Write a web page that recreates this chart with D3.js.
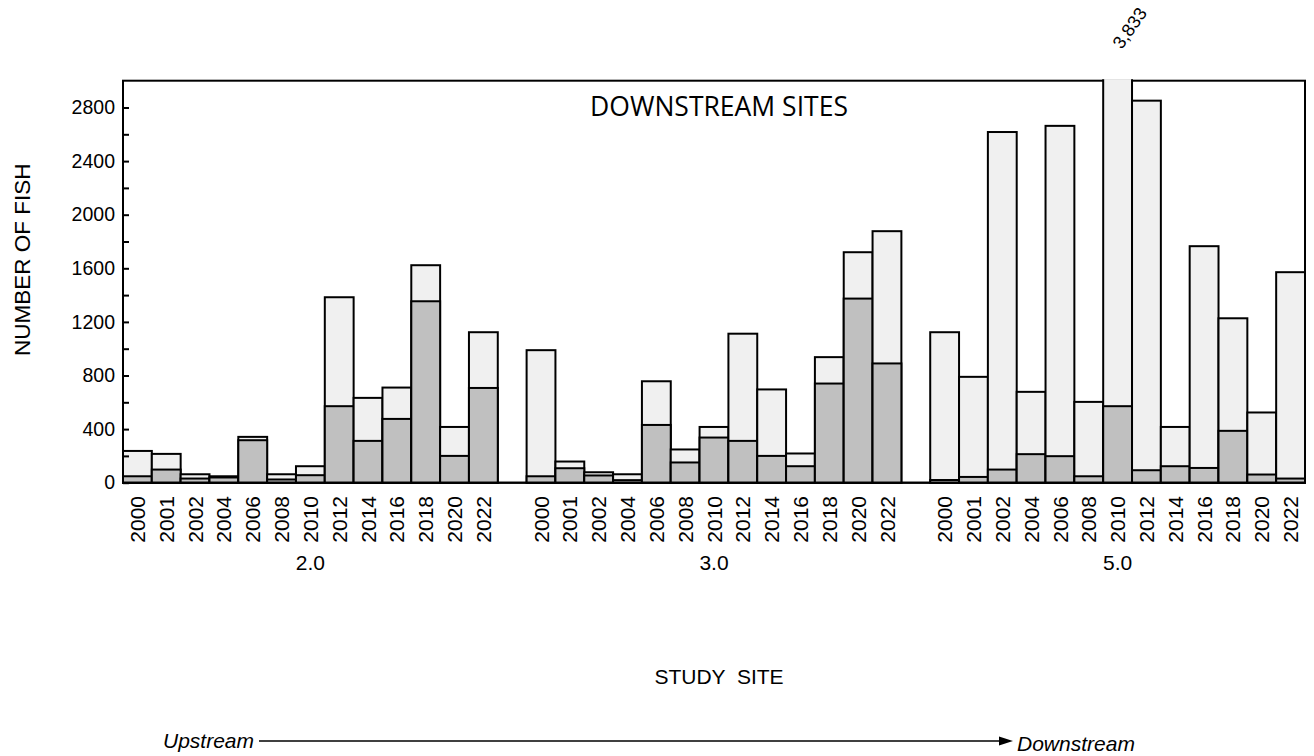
<!DOCTYPE html>
<html>
<head>
<meta charset="utf-8">
<script src="https://cdn.jsdelivr.net/npm/d3@7"></script>
<style>
  body { margin: 0; background: #fff; }
  svg text { font-family: "Liberation Sans", Arial, sans-serif; fill: #000; }
</style>
</head>
<body>
<div id="chart"></div>
<script>
// study sites and sampling years
var sites = ["2.0", "3.0", "5.0"];
var years = ["2000", "2001", "2002", "2004", "2006", "2008", "2010", "2012", "2014", "2016", "2018", "2020", "2022"];

// total fish per bar (top of light segment)
var totalSite2 = [237, 215, 63, 48, 342, 63, 123, 1384, 633, 710, 1623, 416, 1123];
var totalSite3 = [989, 158, 78, 63, 757, 248, 416, 1112, 696, 218, 937, 1720, 1877];
var totalSite5 = [1123, 790, 2617, 678, 2663, 603, 3833, 2851, 416, 1765, 1227, 524, 1571];

// lower (dark) segment per bar
var lowerSite2 = [48, 98, 31, 39, 317, 24, 56, 571, 312, 476, 1354, 200, 707];
var lowerSite3 = [48, 108, 54, 19, 431, 151, 337, 312, 200, 123, 740, 1374, 890];
var lowerSite5 = [20, 43, 98, 213, 198, 48, 571, 93, 123, 110, 387, 61, 31];

var yMajorTicks = [0, 400, 800, 1200, 1600, 2000, 2400, 2800];
var yMinorTicks = [200, 600, 1000, 1400, 1800, 2200, 2600];

var totals = [totalSite2, totalSite3, totalSite5];
var lowers = [lowerSite2, lowerSite3, lowerSite5];

// dimensions
var width = 1314, height = 756;
var plot = { left: 123, right: 1305, top: 80.7, bottom: 482.7 };
var yMax = 3000;

var svg = d3.select("#chart").append("svg")
  .attr("width", width)
  .attr("height", height);

// build rows + spacer slots between sites
var rows = [];
var slots = [];
sites.forEach(function(s, si) {
  if (si > 0) slots.push("gap" + si);
  years.forEach(function(yr, i) {
    var key = s + "|" + yr;
    slots.push(key);
    rows.push({ key: key, site: s, year: yr, lower: lowers[si][i], total: totals[si][i] });
  });
});

var x = d3.scaleBand()
  .domain(slots)
  .range([plot.left, plot.right])
  .padding(0);

var y = d3.scaleLinear()
  .domain([0, yMax])
  .range([plot.bottom, plot.top]);

// frame
svg.append("rect")
  .attr("x", plot.left)
  .attr("y", plot.top)
  .attr("width", plot.right - plot.left)
  .attr("height", plot.bottom - plot.top)
  .attr("fill", "none")
  .attr("stroke", "#000")
  .attr("stroke-width", 2);

// bars
var bars = svg.append("g");
rows.forEach(function(d) {
  var bx = x(d.key), bw = x.bandwidth();
  var clipped = d.total > yMax;
  var topY = clipped ? plot.top - 1.5 : y(d.total);

  if (clipped) {
    bars.append("rect")
      .attr("x", bx).attr("y", topY)
      .attr("width", bw).attr("height", y(0) - topY)
      .attr("fill", "#f0f0f0");
    bars.append("path")
      .attr("d", "M" + bx + "," + y(0) + "V" + topY + "M" + (bx + bw) + "," + topY + "V" + y(0))
      .attr("stroke", "#000").attr("stroke-width", 2).attr("fill", "none");
  } else {
    bars.append("rect")
      .attr("x", bx).attr("y", topY)
      .attr("width", bw).attr("height", y(0) - topY)
      .attr("fill", "#f0f0f0")
      .attr("stroke", "#000").attr("stroke-width", 2);
  }
  bars.append("rect")
    .attr("x", bx).attr("y", y(d.lower))
    .attr("width", bw).attr("height", y(0) - y(d.lower))
    .attr("fill", "#c0c0c0")
    .attr("stroke", "#000").attr("stroke-width", 2);

  if (clipped) {
    // value label for the bar that runs off the top
    var cx = bx + bw / 2 + 12, cy = 28;
    svg.append("text")
      .attr("transform", "translate(" + cx + "," + cy + ") rotate(-55)")
      .attr("text-anchor", "middle")
      .attr("dy", "0.35em")
      .style("font-size", "18px")
      .text(d3.format(",")(d.total));
  }
});

// axis lines on top of bars
svg.append("path")
  .attr("d", "M" + plot.left + "," + plot.top + "V" + plot.bottom + "H" + plot.right)
  .attr("stroke", "#000").attr("stroke-width", 2).attr("fill", "none");

// y axis ticks (inward)
var yAxis = svg.append("g")
  .attr("transform", "translate(" + plot.left + ",0)")
  .call(d3.axisLeft(y).tickValues(yMajorTicks).tickSize(-6).tickPadding(8).tickFormat(d3.format("d")));
yAxis.select(".domain").remove();
yAxis.selectAll("line").attr("stroke-width", 2);
yAxis.selectAll("text").style("font-size", "19.5px").style("font-family", "'Liberation Sans', Arial, sans-serif");

var yMinor = svg.append("g")
  .attr("transform", "translate(" + plot.left + ",0)")
  .call(d3.axisLeft(y).tickValues(yMinorTicks).tickSize(-6).tickFormat(""));
yMinor.select(".domain").remove();
yMinor.selectAll("line").attr("stroke-width", 2);

// year labels
svg.append("g").selectAll("text")
  .data(rows)
  .enter()
  .append("text")
  .attr("transform", function(d) { return "translate(" + (x(d.key) + x.bandwidth() / 2) + ",496) rotate(-90)"; })
  .attr("text-anchor", "end")
  .attr("dy", "0.36em")
  .style("font-size", "21px")
  .text(function(d) { return d.year; });

// site labels
svg.append("g").selectAll("text")
  .data(sites)
  .enter()
  .append("text")
  .attr("x", function(s) {
    var first = x(s + "|" + years[0]);
    var last = x(s + "|" + years[years.length - 1]) + x.bandwidth();
    return (first + last) / 2;
  })
  .attr("y", 570)
  .attr("text-anchor", "middle")
  .style("font-size", "21px")
  .text(function(s) { return s; });

// chart title, sized to its width in the reference
var title = svg.append("text")
  .attr("x", 719).attr("y", 116)
  .attr("text-anchor", "middle")
  .style("font-family", "'Open Sans', Lato, sans-serif")
  .style("font-size", "20px")
  .text("DOWNSTREAM SITES");
var tw = title.node().getComputedTextLength();
title.style("font-size", (20 * 258 / tw) + "px");

svg.append("text")
  .attr("transform", "translate(30," + ((plot.top + plot.bottom) / 2 - 22) + ") rotate(-90)")
  .attr("text-anchor", "middle")
  .style("font-size", "22.5px")
  .text("NUMBER OF FISH");

svg.append("text")
  .attr("x", 719).attr("y", 684)
  .attr("text-anchor", "middle")
  .attr("xml:space", "preserve")
  .style("white-space", "pre")
  .style("font-size", "21px")
  .text("STUDY  SITE");

// upstream -> downstream arrow
svg.append("text")
  .attr("x", 254).attr("y", 748)
  .attr("text-anchor", "end")
  .style("font-size", "21px")
  .style("font-style", "italic")
  .text("Upstream");

svg.append("line")
  .attr("x1", 259).attr("x2", 1002)
  .attr("y1", 741).attr("y2", 741)
  .attr("stroke", "#000").attr("stroke-width", 1.5);

svg.append("path")
  .attr("d", "M1013,741 L999,736.5 L999,745.5 Z")
  .attr("fill", "#000");

svg.append("text")
  .attr("x", 1017).attr("y", 751)
  .style("font-size", "21px")
  .style("font-style", "italic")
  .text("Downstream");
</script>
</body>
</html>
